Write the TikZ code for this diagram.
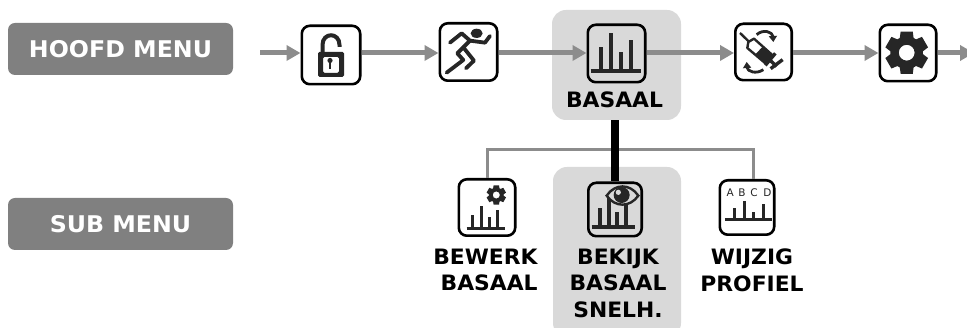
\documentclass[tikz,border=0pt]{standalone}
\usepackage{fontspec}
\setmainfont{DejaVu Sans}
\newfontfamily\labfont{DejaVu Sans Bold}[FakeStretch=1.03]
\newfontfamily\btnfont{DejaVu Sans Bold}[FakeStretch=1.03]
\newfontfamily\abcfont{DejaVu Sans}
\usetikzlibrary{arrows.meta,calc}
\definecolor{btn}{HTML}{808080}
\definecolor{hl}{HTML}{D9D9D9}
\definecolor{conn}{HTML}{8C8C8C}
\definecolor{ink}{HTML}{262626}
\tikzset{
  iconbox/.style={draw=black,line width=2.6pt,fill=white,rounded corners=8pt,inner sep=0pt,outer sep=1.3pt,minimum width=#1,minimum height=#1},
  menubtn/.style={fill=btn,rounded corners=7pt,minimum width=225pt,minimum height=52pt,text=white,font=\fontsize{23}{26}\btnfont,inner sep=0pt},
  flow/.style={conn,line width=5pt,-{Triangle[length=14pt,width=15pt]}},
  tree/.style={conn,line width=3pt},
  lab/.style={align=center,font=\fontsize{21.2}{26.7}\labfont,inner sep=0pt,text=black},
  hlbox/.style={fill=hl,rounded corners=14pt},
  bar/.style={ink,line width=#1},
  abc/.style={text=ink,font=\fontsize{10.5}{11}\abcfont,inner sep=0pt},
}
\newcommand{\gearicon}[3]{%
  \fill[ink,even odd rule] ($(#1,#2)+(115:#3*0.74)$)
    \foreach \a in {90,30,-30,-90,-150,-210}{
      -- ($(#1,#2)+(\a+25:#3*0.74)$) -- ($(#1,#2)+(\a+16:#3)$) -- ($(#1,#2)+(\a-16:#3)$) -- ($(#1,#2)+(\a-25:#3*0.74)$)
    } -- cycle
    (#1,#2) circle[radius=#3*0.36];}
\begin{document}
\begin{tikzpicture}[x=1pt,y=-1pt]
\clip (0,0) rectangle (967,328);
\fill[white] (0,0) rectangle (967,328);
% highlights
\node[hlbox,minimum width=129pt,minimum height=110pt] (hlTop) at (616.5,65) {};
\node[hlbox,minimum width=128pt,minimum height=170pt] (hlSub) at (617,252) {};
% buttons
\node[menubtn] (hoofd) at (120.5,49) {HOOFD MENU};
\node[menubtn] (sub) at (120.5,224) {SUB MENU};
% boxes
\coordinate (flowLine) at (260,53);
\coordinate (endFlow) at (974,53);
\node[iconbox=58.4pt] (lock) at (331,55) {};
\node[iconbox=57.4pt] (run) at (468.5,52) {};
\node[iconbox=57.4pt,fill=hl] (bas) at (616.5,53.5) {};
\node[iconbox=56.4pt] (syr) at (763.5,52) {};
\node[iconbox=56.4pt] (gear) at (908,53) {};
\node[iconbox=56.4pt] (bew) at (487,207.5) {};
\node[iconbox=53.4pt,fill=hl] (bek) at (615,209.5) {};
\node[iconbox=54.4pt] (wij) at (747,207.5) {};
\coordinate (treeL) at (487,150);
\coordinate (treeR) at (753,150);
% connectors
\draw[flow] (flowLine) -- (lock.west |- flowLine);
\draw[flow] (lock.east |- flowLine) -- (run.west |- flowLine);
\draw[flow] (run.east |- flowLine) -- (bas.west |- flowLine);
\draw[flow] (bas.east |- flowLine) -- (syr.west |- flowLine);
\draw[flow] (syr.east |- flowLine) -- (gear.west |- flowLine);
\draw[flow] (gear.east |- flowLine) -- (endFlow);
\draw[tree] (treeL |- bew.north) -- (treeL) -- (treeR) -- (treeR |- wij.north);
\draw[black,line width=8pt] (hlTop.south -| bek.north) -- (bek.north);
% lock
\fill[ink,even odd rule,rounded corners=1.5pt] (318,52) rectangle (344,77) (323,57) rectangle (339,73);
\draw[ink,line width=4pt] (322.5,52) -- (322.5,45) .. controls (322.5,32) and (339.5,32) .. (339.5,45) -- (339.5,47);
\fill[ink] (330,60.5) circle[radius=2.6];
\fill[ink] (328.9,61) rectangle (331.1,69);
% runner
\begin{scope}[shift={(250,0)},x=0.3333pt,y=-0.3333pt,line join=round,line cap=round]
\fill[ink] (680,100) ellipse[x radius=6pt,y radius=4.6pt];
\draw[ink,line width=3.8pt] (600,128) -- (635,100) -- (660,122) -- (705,128) -- (720,108);
\draw[ink,line width=3.8pt] (660,122) -- (622,160) -- (640,180) -- (590,218);
\draw[ink,line width=3.8pt] (640,142) -- (672,182) -- (648,205);
\end{scope}
% basal bars
\begin{scope}[shift={(580,20)},x=0.3333pt,y=-0.3333pt]
\draw[bar=4.2pt] (32,152) -- (183,152);
\draw[bar=4.2pt] (62,152) -- (62,82) (92,152) -- (92,40) (122,152) -- (122,95) (152,152) -- (152,60);
\end{scope}
\node[lab] (basLab) at (614.5,100) {BASAAL};
% syringe
\begin{scope}[shift={(730,18)},x=0.3333pt,y=-0.3333pt,line join=round]
\draw[ink,line width=2.4pt] (30,45) -- (58,72);
\draw[ink,line width=2.4pt,fill=white] (55,72) -- (72,62) -- (128,112) -- (105,135) -- (52,90) -- cycle;
\fill[ink] (77,108) -- (100,84) -- (128,112) -- (105,135) -- cycle;
\draw[ink,line width=3.4pt] (106,142) -- (136,106);
\draw[ink,line width=3.4pt] (118,125) -- (140,145);
\draw[ink,line width=3.4pt] (122,152) -- (158,125);
\draw[ink,line width=2.8pt,-{Triangle[length=6pt,width=8pt]}] (80,50) .. controls (100,32) and (128,42) .. (130,72);
\draw[ink,line width=2.8pt,-{Triangle[length=6pt,width=8pt]}] (100,155) .. controls (78,170) and (52,160) .. (50,132);
\end{scope}
% gear
\gearicon{906.7}{52.7}{22}
% bewerk
\begin{scope}[shift={(430,130)},x=0.3333pt,y=-0.3333pt]
\draw[bar=3.2pt] (110,295) -- (226,295);
\draw[bar=3pt] (128,295) -- (128,255) (155,295) -- (155,228) (178,295) -- (178,260) (203,295) -- (203,240);
\end{scope}
\gearicon{496.3}{195}{10}
\node[lab,align=right] (bewLab) at (485.5,270) {BEWERK\\BASAAL};
% bekijk
\begin{scope}[shift={(580,175)},x=0.3333pt,y=-0.3333pt]
\draw[bar=3.8pt] (35,155) -- (165,155);
\draw[bar=3.8pt] (60,155) -- (60,100) (88,155) -- (88,60) (112,155) -- (112,110) (137,155) -- (137,60);
\draw[ink,line width=2.4pt,fill=hl] (80,62) .. controls (105,25) and (150,25) .. (175,62) .. controls (150,98) and (105,98) .. (80,62) -- cycle;
\fill[ink] (125,60) circle[radius=8pt];
\fill[hl] (115,52) circle[radius=2.6pt];
\end{scope}
\node[lab] (bekLab) at (618,283.3) {BEKIJK\\BASAAL\\SNELH.};
% wijzig
\begin{scope}[shift={(430,130)},x=0.3333pt,y=-0.3333pt]
\draw[bar=3pt] (885,270) -- (1025,270);
\draw[bar=3pt] (915,270) -- (915,235) (943,270) -- (943,213) (972,270) -- (972,245) (1000,270) -- (1000,222);
\node[abc] (wA) at (901,189) {A};
\node[abc] (wB) at (936,189) {B};
\node[abc] (wC) at (972,189) {C};
\node[abc] (wD) at (1012,189) {D};
\end{scope}
\node[lab] (wijLab) at (752,270) {WIJZIG\\PROFIEL};
\end{tikzpicture}
\end{document}
